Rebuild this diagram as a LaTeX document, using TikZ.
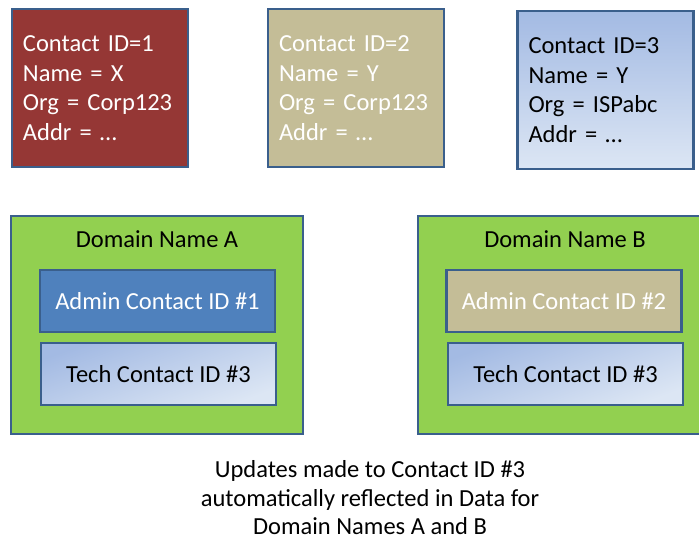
\documentclass[tikz,border=0pt]{standalone}
\usepackage{fontspec}
\setmainfont{Carlito}
\definecolor{edgeblue}{HTML}{3A5F8C}
\definecolor{contactred}{HTML}{953735}
\definecolor{contacttan}{HTML}{C4BD97}
\definecolor{blueTop}{HTML}{A3BAE3}
\definecolor{blueBot}{HTML}{DCE6F4}
\definecolor{adminblue}{HTML}{4F81BD}
\definecolor{domaingreen}{HTML}{92D050}
\begin{document}
\begin{tikzpicture}[
   x=1pt,y=-1pt,
   every node/.style={font=\fontsize{24.5}{29.7}\selectfont},
   box/.style={draw=edgeblue,line width=2.5pt,inner sep=0pt},
   contact/.style={box,minimum width=176pt,minimum height=158pt,text width=154pt,inner xsep=11pt,align=left},
   domainbox/.style={box,fill=domaingreen,minimum width=292pt,minimum height=218pt},
   role/.style={box,minimum width=235pt,minimum height=62pt},
   shadeblue/.style={top color=blueTop,bottom color=blueBot}]
\clip (0,0) rectangle (699,541);
% contact records
\node[contact,fill=contactred,text=white] (C1) at (100,88) {Contact ID=1\\Name = X\\Org = Corp123\\Addr = \dots};
\node[contact,fill=contacttan,text=white] (C2) at (356,88) {Contact ID=2\\Name = Y\\Org = Corp123\\Addr = \dots};
\node[contact,shadeblue,shading angle=0] (C3) at (605.5,90) {Contact ID=3\\Name = Y\\Org = ISPabc\\Addr = \dots};
% domain names
\node[domainbox] (DA) at (157,325) {};
\node (DAtitle) at (157,239) {Domain Name A};
\node[role,fill=adminblue,text=white] (DAadmin) at (157.5,301) {Admin Contact ID \#1};
\node[role,shadeblue,shading angle=20] (DAtech) at (158.5,374) {Tech Contact ID \#3};
\node[domainbox] (DB) at (564,325) {};
\node (DBtitle) at (565,239) {Domain Name B};
\node[role,fill=contacttan,text=white] (DBadmin) at (564,301) {Admin Contact ID \#2};
\node[role,shadeblue,shading angle=20] (DBtech) at (565.5,374) {Tech Contact ID \#3};
% note
\node[align=center,font=\fontsize{24.5}{28.5}\selectfont] (note) at (370,498) {Updates made to Contact ID \#3\\automatically reflected in Data for\\Domain Names A and B};
\end{tikzpicture}
\end{document}
